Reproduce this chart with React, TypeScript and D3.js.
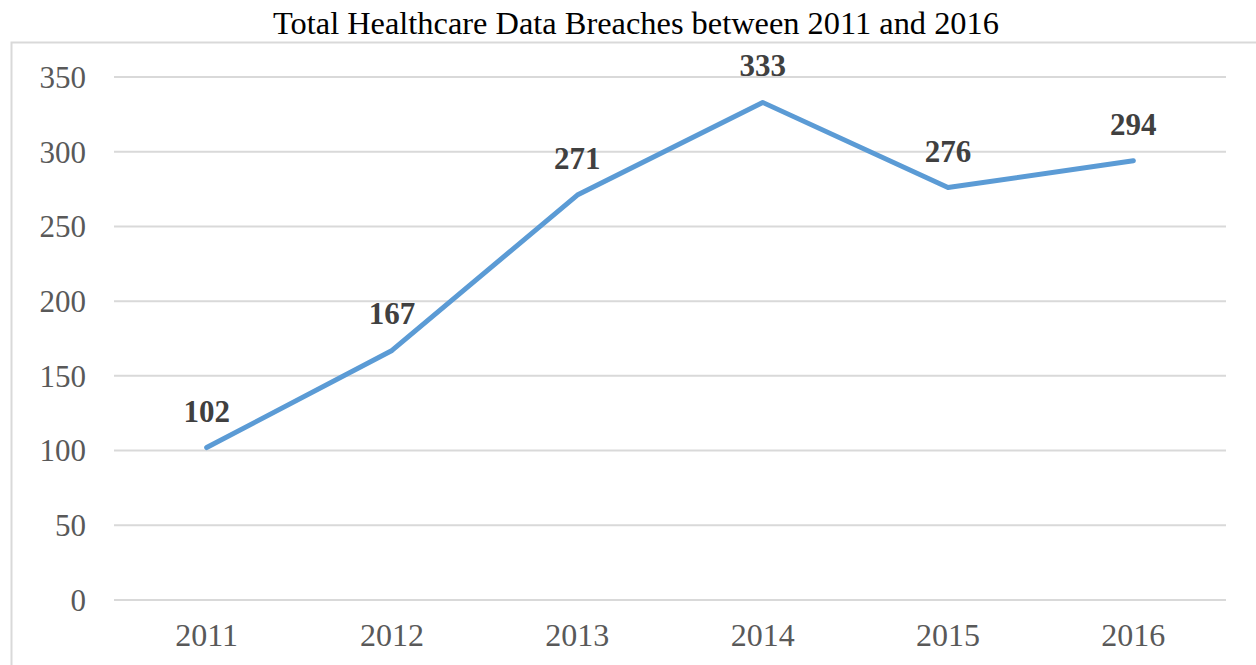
import React from "react";
import * as d3 from "d3";

const years = ["2011", "2012", "2013", "2014", "2015", "2016"];
const breaches = [102, 167, 271, 333, 276, 294];
const yTicks = [0, 50, 100, 150, 200, 250, 300, 350];
const title = "Total Healthcare Data Breaches between 2011 and 2016";

const W = 1256;
const H = 665;
const FONT = "'Times New Roman', 'Liberation Serif', serif";

export default function App() {
  const x = d3.scaleBand<string>().domain(years).range([114, 1226]);
  const y = d3.scaleLinear().domain([0, 350]).range([600, 77]);
  const line = d3
    .line<number>()
    .x((_, i) => (x(years[i]) as number) + x.bandwidth() / 2)
    .y((d) => y(d));

  return (
    <svg
      width={W}
      height={H}
      style={{ position: "absolute", left: 0, top: 0, background: "#fff" }}
      fontFamily={FONT}
    >
      <rect x={11.5} y={42.5} width={1300} height={700} fill="none" stroke="#d9d9d9" strokeWidth={2} />
      <text x={636} y={34} textAnchor="middle" fontSize={32.4} fill="#000">
        {title}
      </text>
      {yTicks.map((t) => (
        <g key={t}>
          <line x1={114} x2={1226} y1={y(t)} y2={y(t)} stroke="#d9d9d9" strokeWidth={2} />
          <text x={86} y={y(t)} dy="0.35em" textAnchor="end" fontSize={31} fill="#595959">
            {t}
          </text>
        </g>
      ))}
      {years.map((yr) => (
        <text
          key={yr}
          x={(x(yr) as number) + x.bandwidth() / 2}
          y={646}
          textAnchor="middle"
          fontSize={32}
          fill="#595959"
        >
          {yr}
        </text>
      ))}
      <path
        d={line(breaches) || ""}
        fill="none"
        stroke="#5b9bd5"
        strokeWidth={5}
        strokeLinecap="round"
        strokeLinejoin="round"
      />
      {breaches.map((v, i) => (
        <text
          key={i}
          x={(x(years[i]) as number) + x.bandwidth() / 2}
          y={y(v) - 26}
          textAnchor="middle"
          fontSize={31}
          fontWeight="bold"
          fill="#404040"
        >
          {v}
        </text>
      ))}
    </svg>
  );
}
